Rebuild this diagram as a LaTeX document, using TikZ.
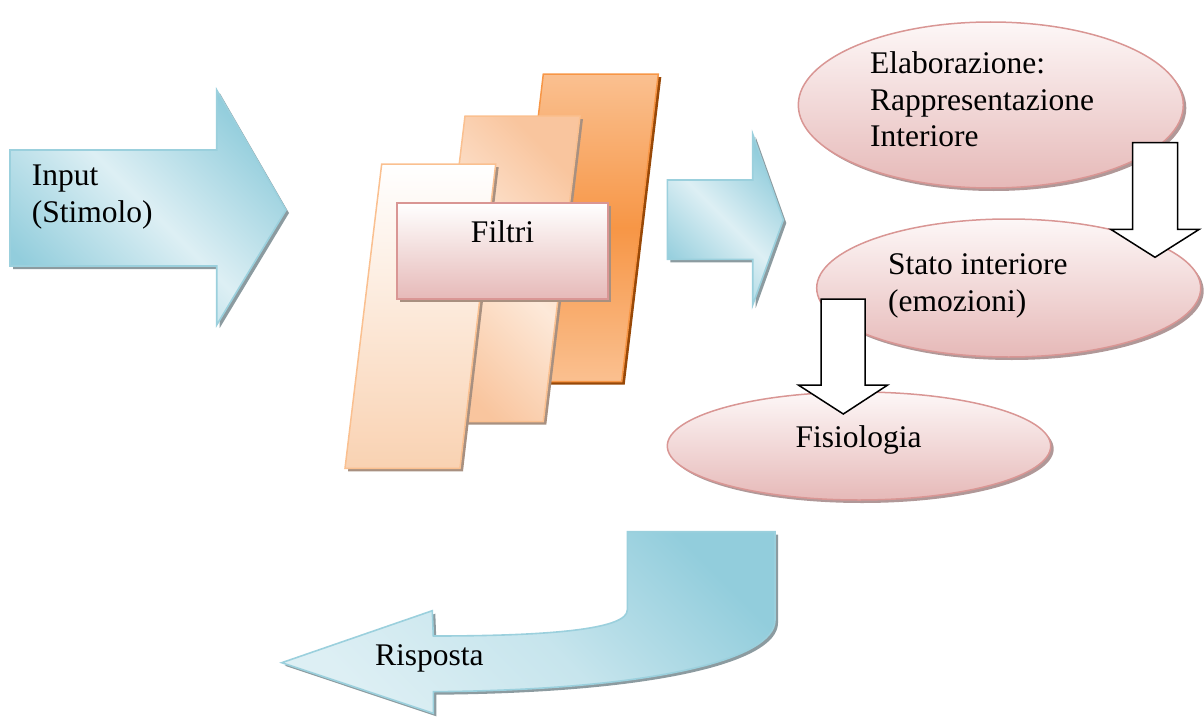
\documentclass[tikz,border=0pt]{standalone}
\usepackage{fontspec}
\setmainfont{Liberation Serif}
\usetikzlibrary{shapes.geometric}
\definecolor{blueD}{HTML}{92CDDC}
\definecolor{blueL}{HTML}{DDEFF4}
\definecolor{blueS}{HTML}{9BD0DD}
\definecolor{shBlue}{HTML}{8C9BA0}
\definecolor{orT}{HTML}{FAC090}
\definecolor{orM}{HTML}{F79646}
\definecolor{orS}{HTML}{F79646}
\definecolor{orShadow}{HTML}{984807}
\definecolor{pchD}{HTML}{F9C59E}
\definecolor{pchL}{HTML}{FDE9D9}
\definecolor{pchS}{HTML}{FAC090}
\definecolor{frT}{HTML}{FFFFFF}
\definecolor{frB}{HTML}{F9D2B2}
\definecolor{shBrown}{HTML}{A89080}
\definecolor{pinkT}{HTML}{FDF7F7}
\definecolor{pinkM}{HTML}{F2DCDB}
\definecolor{pinkB}{HTML}{E6B9B8}
\definecolor{pinkS}{HTML}{D99694}
\definecolor{shPink}{HTML}{B09898}
\begin{document}
\begin{tikzpicture}[x=1pt,y=-1pt,
  font=\fontsize{31.5}{36.5}\selectfont,
  sh/.style={preaction={fill=#1, transform canvas={shift={(3pt,-3pt)}}}},
  bluearrow/.style={draw=blueS, line width=1.6pt, line join=miter, sh=shBlue,
    left color=blueD, right color=blueD, middle color=blueL, shading angle=135},
  pinkell/.style={ellipse, draw=pinkS, line width=1.5pt, inner sep=0pt, sh=shPink,
    top color=pinkT, bottom color=pinkB},
  whitearrow/.style={draw=black, line width=1.5pt, fill=white, line join=miter},
  txt/.style={inner sep=0pt, align=left, text=black},
]
\useasboundingbox (0,0) rectangle (1204,717);

% Input arrow
\path[bluearrow] (10,150) -- (216.7,150) -- (216.7,90) -- (286,210) -- (216.7,325)
  -- (216.7,266) -- (10,266) -- cycle;
\node[txt, anchor=west] (inputT) at (31.7,197) {Input\\(Stimolo)};

% Filters
\path[draw=orS, line width=1.5pt, sh=orShadow, top color=orT, bottom color=orT, middle color=orM]
  (543.3,74) -- (658.3,74) -- (621.7,381.7) -- (507,381.7) -- cycle;
\path[draw=pchS, line width=1.5pt, sh=shBrown, left color=pchD, right color=pchD,
  middle color=pchL, shading angle=135]
  (465,116) -- (580,116) -- (543.3,421.7) -- (428.3,421.7) -- cycle;
\path[draw=pchS, line width=1.5pt, sh=shBrown, top color=frT, bottom color=frB]
  (381.7,164) -- (495.7,164) -- (460,468.3) -- (345,468.3) -- cycle;
\node[draw=pinkS, line width=2pt, sh=shBrown, top color=white, bottom color=pinkB,
  middle color=pinkM, minimum width=211.6pt, minimum height=96pt, inner sep=0pt]
  (filtri) at (502.5,251.3) {};
\node[txt, anchor=base] (filtriT) at (502.5,242.7) {Filtri};

% middle arrow
\path[bluearrow] (667.3,180) -- (752.7,180) -- (752.7,134) -- (783.3,220) -- (752.7,305)
  -- (752.7,259.3) -- (667.3,259.3) -- cycle;

% Ellipses
\node[pinkell, minimum width=385pt, minimum height=166pt] (elab) at (990.8,105) {};
\node[txt, anchor=west] (elabT) at (870,99.5) {Elaborazione:\\Rappresentazione\\Interiore};
\node[pinkell, minimum width=384pt, minimum height=138pt] (stato) at (1008.7,288) {};
\node[txt, anchor=west] (statoT) at (888,286) {Stato interiore\\(emozioni)};
\path[whitearrow] (1132.7,142.7) -- (1177.7,142.7) -- (1177.7,229.3) -- (1199.3,229.3)
  -- (1155,257.3) -- (1110.7,229.3) -- (1132.7,229.3) -- cycle;
\node[pinkell, minimum width=383.4pt, minimum height=108pt] (fisio) at (859,446) {};
\node[txt, anchor=base] (fisioT) at (858.5,447) {Fisiologia};
\path[whitearrow] (821,299) -- (865,299) -- (865,385) -- (887.7,385) -- (843.3,414)
  -- (798.3,385) -- (821,385) -- cycle;

% Risposta
\path[draw=blueS, line width=1.6pt, sh=shBlue, top color=blueD, bottom color=blueL,
  middle color=blueL!70!blueD, shading angle=-45]
  (627.3,531.7) -- (775,531.7) -- (775,620) .. controls (775,660) and (650,690) .. (433.3,691.7)
  -- (433.3,713.3) -- (281.7,662.7) -- (432.3,610.7) -- (433.3,636)
  .. controls (560,636) and (627.3,628) .. (627.3,610) -- cycle;
\node[txt, anchor=base west] (rispT) at (375,665.7) {Risposta};
\end{tikzpicture}
\end{document}
